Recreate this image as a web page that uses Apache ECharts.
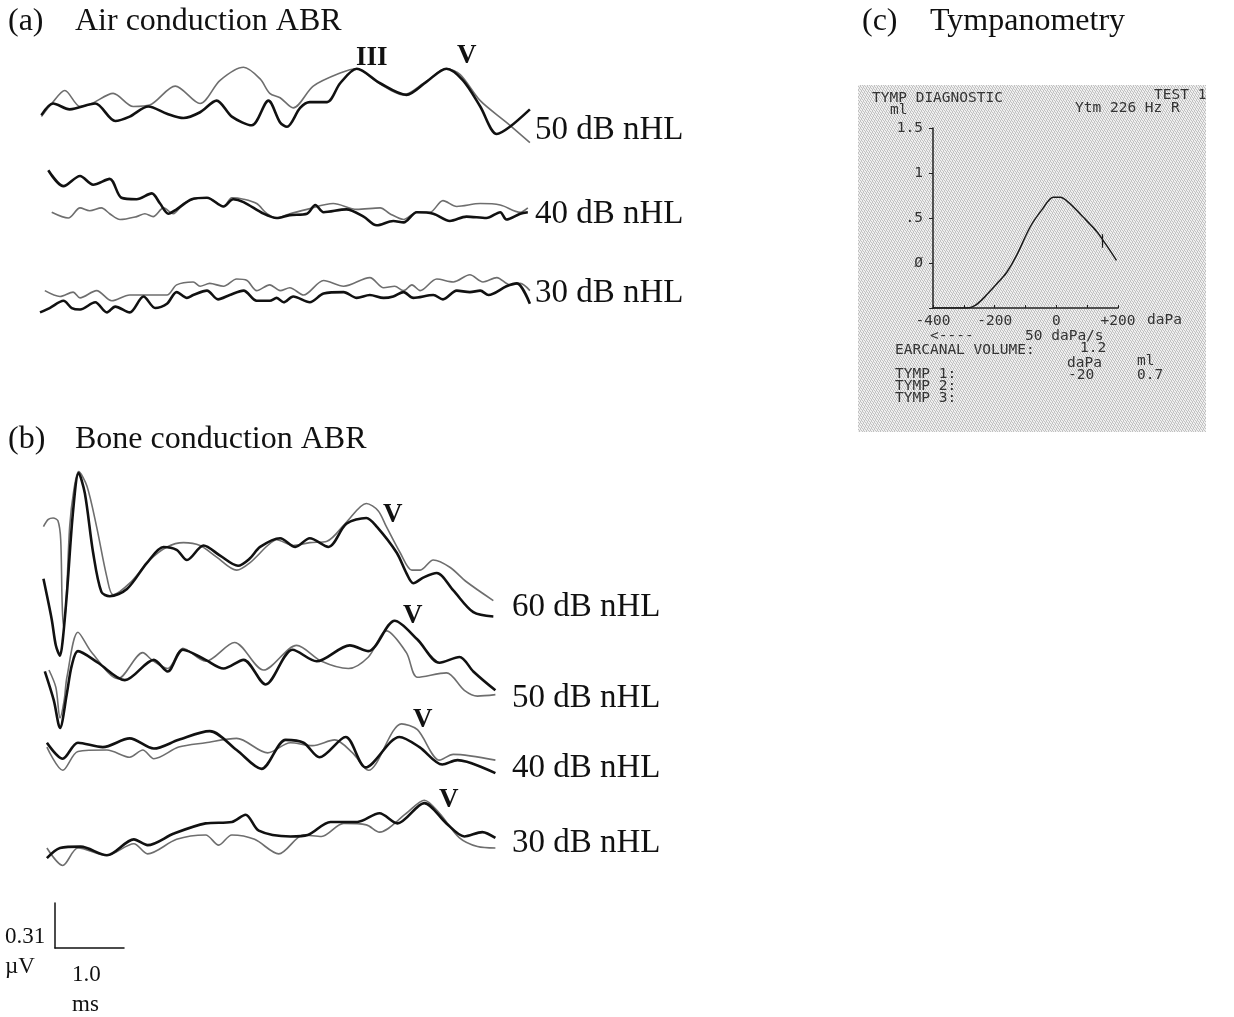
<!DOCTYPE html>
<html>
<head>
<meta charset="utf-8">
<script src="https://cdn.jsdelivr.net/npm/echarts@6/dist/echarts.min.js"></script>
<style>
  html, body { margin: 0; padding: 0; background: #fff; }
  #chart { width: 1234px; height: 1017px; }
</style>
</head>
<body>
<div id="chart"></div>
<script>
// ABR traces: [time (ms), amplitude (uV)] relative to each trace's baseline
// (a) air conduction
const a50Thin = [[0.02,-0.08],[0.17,0.01],[0.36,0.10],[0.58,-0.01],[0.75,0.01],[1.06,0.08],[1.35,-0.01],[1.59,0.00],[1.96,0.13],[2.32,0.01],[2.61,0.17],[2.95,0.26],[3.19,0.18],[3.33,0.08],[3.48,0.05],[3.67,-0.02],[3.96,0.13],[4.35,0.22],[4.59,0.25],[4.88,0.16],[5.27,0.07],[5.56,0.15],[5.89,0.25],[6.09,0.21],[6.38,0.03],[6.76,-0.12],[7.10,-0.26]];
const a50Thick = [[0.02,-0.07],[0.19,0.01],[0.43,-0.03],[0.80,0.01],[1.09,-0.11],[1.30,-0.08],[1.57,-0.01],[1.84,-0.06],[2.08,-0.09],[2.32,-0.05],[2.56,0.03],[2.78,-0.08],[3.07,-0.14],[3.31,0.03],[3.48,-0.12],[3.58,-0.15],[3.77,-0.02],[3.91,0.02],[4.16,0.02],[4.35,0.15],[4.59,0.25],[4.93,0.15],[5.31,0.07],[5.60,0.16],[5.89,0.25],[6.13,0.17],[6.38,-0.01],[6.62,-0.20],[6.81,-0.15],[7.10,-0.03]];
const a40Thin = [[0.17,-0.05],[0.41,-0.09],[0.58,-0.02],[0.72,-0.04],[0.89,-0.02],[1.01,-0.06],[1.16,-0.10],[1.40,-0.08],[1.52,-0.06],[1.64,-0.08],[1.79,-0.02],[1.93,-0.06],[2.08,0.01],[2.22,0.04],[2.42,0.05],[2.66,-0.01],[2.78,0.05],[2.95,0.04],[3.14,0.01],[3.29,-0.06],[3.43,-0.09],[3.62,-0.06],[3.87,-0.03],[4.25,0.01],[4.59,-0.03],[4.93,-0.02],[5.07,-0.06],[5.27,-0.10],[5.46,-0.05],[5.65,-0.05],[5.84,0.03],[6.04,-0.01],[6.38,0.01],[6.67,0.00],[6.96,-0.05],[7.07,-0.02]];
const a40Thick = [[0.12,0.24],[0.34,0.13],[0.58,0.20],[0.77,0.14],[1.01,0.18],[1.18,0.05],[1.40,0.04],[1.62,0.08],[1.74,0.01],[1.86,-0.06],[1.98,-0.03],[2.20,0.04],[2.42,0.05],[2.66,-0.01],[2.80,0.04],[2.95,0.02],[3.24,-0.06],[3.43,-0.09],[3.62,-0.07],[3.87,-0.06],[3.99,0.00],[4.11,-0.05],[4.44,-0.03],[4.69,-0.08],[4.88,-0.14],[5.12,-0.11],[5.27,-0.12],[5.46,-0.05],[5.70,-0.06],[5.94,-0.11],[6.18,-0.08],[6.47,-0.09],[6.67,-0.05],[6.76,-0.10],[6.96,-0.06],[7.07,-0.05]];
const a30Thin = [[0.07,0.03],[0.29,-0.01],[0.48,0.02],[0.58,-0.02],[0.82,0.03],[1.04,-0.04],[1.30,0.00],[1.50,0.00],[1.84,0.00],[1.98,0.07],[2.22,0.09],[2.32,0.06],[2.46,0.08],[2.66,0.06],[2.85,0.11],[3.00,0.10],[3.14,0.03],[3.33,0.07],[3.48,0.03],[3.62,0.05],[3.82,0.00],[4.11,0.10],[4.40,0.06],[4.78,0.12],[4.98,0.05],[5.14,0.06],[5.27,0.03],[5.39,0.07],[5.51,0.03],[5.75,0.11],[5.99,0.09],[6.23,0.14],[6.42,0.09],[6.62,0.12],[6.81,0.07],[6.96,0.08],[7.10,0.03]];
const a30Thick = [[0.00,-0.12],[0.14,-0.09],[0.34,-0.04],[0.46,-0.09],[0.58,-0.10],[0.80,-0.05],[0.97,-0.12],[1.09,-0.08],[1.30,-0.12],[1.50,-0.01],[1.67,-0.09],[1.84,-0.06],[1.98,0.02],[2.13,-0.02],[2.22,0.00],[2.42,0.03],[2.58,-0.03],[2.75,0.00],[2.95,0.03],[3.14,-0.04],[3.33,-0.04],[3.43,-0.02],[3.53,-0.05],[3.67,-0.01],[3.91,-0.05],[4.11,0.01],[4.40,0.02],[4.59,-0.02],[4.78,0.00],[4.98,-0.02],[5.12,-0.01],[5.27,0.02],[5.41,-0.02],[5.70,0.00],[5.84,-0.03],[6.04,0.03],[6.23,0.02],[6.38,0.03],[6.50,0.00],[6.76,0.06],[6.91,0.08],[7.10,-0.06]];

// (b) bone conduction
const b60Thin = [[0.05,0.23],[0.12,0.28],[0.19,0.29],[0.26,0.27],[0.30,0.14],[0.32,-0.28],[0.34,-0.46],[0.38,-0.28],[0.43,0.23],[0.49,0.48],[0.56,0.61],[0.68,0.51],[0.82,0.23],[0.97,-0.12],[1.06,-0.24],[1.30,-0.16],[1.59,0.00],[1.84,0.09],[2.08,0.12],[2.32,0.10],[2.56,0.02],[2.85,-0.07],[3.04,-0.02],[3.30,0.10],[3.43,0.14],[3.67,0.10],[3.91,0.12],[4.16,0.13],[4.44,0.26],[4.73,0.39],[4.90,0.34],[5.02,0.23],[5.22,0.05],[5.39,-0.07],[5.51,-0.07],[5.70,0.00],[5.94,-0.05],[6.18,-0.15],[6.57,-0.28]];
const b60Thick = [[0.05,-0.13],[0.17,-0.41],[0.23,-0.59],[0.29,-0.66],[0.33,-0.55],[0.39,-0.23],[0.48,0.34],[0.56,0.60],[0.65,0.46],[0.77,0.05],[0.89,-0.22],[1.01,-0.25],[1.26,-0.20],[1.55,-0.02],[1.79,0.09],[1.98,0.07],[2.13,0.00],[2.37,0.10],[2.61,0.03],[2.87,-0.04],[3.04,0.01],[3.19,0.09],[3.48,0.15],[3.70,0.09],[3.91,0.15],[4.18,0.09],[4.44,0.25],[4.73,0.29],[4.88,0.23],[5.17,0.05],[5.31,-0.09],[5.41,-0.16],[5.56,-0.12],[5.75,-0.09],[5.99,-0.21],[6.28,-0.36],[6.57,-0.39]];
const b50Thin = [[0.13,0.00],[0.23,-0.12],[0.29,-0.33],[0.35,-0.21],[0.39,-0.05],[0.55,0.26],[0.75,0.12],[1.13,-0.06],[1.49,0.12],[1.62,0.07],[1.85,0.01],[2.07,0.15],[2.40,0.06],[2.82,0.19],[3.24,0.00],[3.72,0.17],[4.08,0.06],[4.47,0.01],[4.76,0.09],[5.02,0.27],[5.31,0.12],[5.47,-0.05],[5.89,-0.02],[6.15,-0.14],[6.34,-0.18],[6.60,-0.17]];
const b50Thick = [[0.07,-0.01],[0.20,-0.21],[0.29,-0.40],[0.39,-0.16],[0.46,0.03],[0.55,0.13],[0.84,0.05],[1.23,-0.07],[1.65,0.07],[1.85,-0.01],[2.07,0.14],[2.40,0.07],[2.66,0.01],[2.95,0.07],[3.27,-0.10],[3.66,0.14],[4.01,0.06],[4.49,0.17],[4.76,0.13],[5.14,0.34],[5.47,0.21],[5.79,0.05],[6.08,0.09],[6.28,-0.01],[6.60,-0.14]];
const b40Thin = [[0.10,0.02],[0.33,-0.14],[0.55,-0.01],[0.97,0.00],[1.30,-0.05],[1.49,0.00],[1.65,-0.06],[2.01,0.02],[2.40,0.05],[2.85,0.08],[3.30,-0.02],[3.63,0.05],[3.95,0.03],[4.27,0.07],[4.53,-0.02],[4.76,-0.14],[5.24,0.18],[5.47,0.14],[5.79,-0.07],[5.99,-0.03],[6.60,-0.07]];
const b40Thick = [[0.10,0.05],[0.33,-0.06],[0.55,0.05],[0.91,0.02],[1.30,0.08],[1.65,0.01],[2.01,0.07],[2.46,0.13],[2.85,0.00],[3.21,-0.13],[3.56,0.07],[3.82,0.05],[4.05,-0.05],[4.43,0.09],[4.72,-0.12],[5.21,0.09],[5.50,0.02],[5.83,-0.10],[6.05,-0.07],[6.60,-0.16]];
const b30Thin = [[0.10,-0.09],[0.33,-0.21],[0.55,-0.09],[0.97,-0.14],[1.36,-0.06],[1.56,-0.13],[1.98,-0.03],[2.40,0.00],[2.59,-0.07],[2.78,0.00],[3.11,-0.03],[3.46,-0.13],[3.82,0.00],[4.08,-0.01],[4.40,0.08],[4.73,0.07],[4.92,0.02],[5.31,0.15],[5.57,0.24],[5.79,0.15],[6.08,-0.02],[6.34,-0.08],[6.60,-0.09]];
const b30Thick = [[0.10,-0.16],[0.29,-0.09],[0.59,-0.08],[0.97,-0.14],[1.36,-0.03],[1.56,-0.07],[1.94,0.01],[2.40,0.08],[2.78,0.09],[2.98,0.14],[3.17,0.03],[3.63,-0.01],[3.88,0.00],[4.21,0.09],[4.60,0.09],[4.92,0.15],[5.18,0.08],[5.57,0.22],[5.89,0.08],[6.15,-0.01],[6.41,0.02],[6.60,-0.02]];

const levelsA = ['50 dB nHL', '40 dB nHL', '30 dB nHL'];
const levelsB = ['60 dB nHL', '50 dB nHL', '40 dB nHL', '30 dB nHL'];

// (c) tympanogram
const tympPressure = [-400, -290, -263, -236, -182, -160, -128, -85, -47, -10, 12, 44, 87, 131, 158, 195];
const tympVolume = [-0.5, -0.5, -0.47, -0.39, -0.19, -0.10, 0.09, 0.40, 0.59, 0.73, 0.73, 0.66, 0.51, 0.35, 0.22, 0.03];
const tympTicksX = [-400, -200, 0, 200];

// scale bar
const scaleMs = 1.0, scaleUv = 0.31;

// ---- layout ----
const PX_MS = 69, PX_UV = 145, YR = 0.7;
const baseA = [105, 205, 295];
const baseB = [560, 670, 750, 835];
const spanA = 7.3, spanB = 6.7;

const chart = echarts.init(document.getElementById('chart'), null, { renderer: 'canvas' });

const grids = [], xAxes = [], yAxes = [], series = [];

function addTraceGrid(left, base, span, thin, thick) {
  const i = grids.length;
  grids.push({ left: left, top: base - YR * PX_UV, width: span * PX_MS, height: 2 * YR * PX_UV });
  xAxes.push({ gridIndex: i, type: 'value', min: 0, max: span, show: false });
  yAxes.push({ gridIndex: i, type: 'value', min: -YR, max: YR, show: false });
  series.push({
    type: 'line', xAxisIndex: i, yAxisIndex: i, data: thin, showSymbol: false, smooth: 0.3,
    lineStyle: { color: '#6e6e6e', width: 1.6 }, silent: true
  });
  series.push({
    type: 'line', xAxisIndex: i, yAxisIndex: i, data: thick, showSymbol: false, smooth: 0.3,
    lineStyle: { color: '#111', width: 2.6 }, silent: true
  });
}

addTraceGrid(40, baseA[0], spanA, a50Thin, a50Thick);
addTraceGrid(40, baseA[1], spanA, a40Thin, a40Thick);
addTraceGrid(40, baseA[2], spanA, a30Thin, a30Thick);
addTraceGrid(40, baseB[0], spanB, b60Thin, b60Thick);
addTraceGrid(40, baseB[1], spanB, b50Thin, b50Thick);
addTraceGrid(40, baseB[2], spanB, b40Thin, b40Thick);
addTraceGrid(40, baseB[3], spanB, b30Thin, b30Thick);

// tympanogram grid
const MONO = 'DejaVu Sans Mono';
const tg = grids.length;
grids.push({ left: 933, top: 128, width: 185, height: 180 });
xAxes.push({
  gridIndex: tg, type: 'value', min: -400, max: 200, interval: 100,
  axisLine: { onZero: false, lineStyle: { color: '#222', width: 1.5 } },
  axisTick: { inside: true, length: 3, lineStyle: { color: '#222' } },
  splitLine: { show: false },
  axisLabel: {
    margin: 6, fontFamily: MONO, fontSize: 14.5, color: '#333',
    formatter: v => tympTicksX.includes(v) ? (v > 0 ? '+' + v : String(v)) : ''
  }
});
yAxes.push({
  gridIndex: tg, type: 'value', min: -0.5, max: 1.5, interval: 0.5,
  axisLine: { show: true, onZero: false, lineStyle: { color: '#222', width: 1.5 } },
  axisTick: { show: true, length: 4, lineStyle: { color: '#222' } },
  splitLine: { show: false },
  axisLabel: {
    margin: 10, fontFamily: MONO, fontSize: 14.5, color: '#333',
    formatter: v => ({ '1.5': '1.5', '1': '1', '0.5': '.5', '0': 'Ø' })[String(v)] || ''
  }
});
series.push({
  type: 'line', xAxisIndex: tg, yAxisIndex: tg, showSymbol: false, smooth: 0.3, silent: true,
  data: tympPressure.map((p, k) => [p, tympVolume[k]]),
  lineStyle: { color: '#1a1a1a', width: 1.5 },
  markLine: {
    silent: true, symbol: 'none', label: { show: false },
    lineStyle: { color: '#1a1a1a', width: 1.2, type: 'solid' },
    data: [[{ coord: [150, 0.32] }, { coord: [150, 0.17] }]]
  }
});

// scale bar drawn as a pair of axes
const sg = grids.length;
grids.push({ left: 55, top: 948 - scaleUv * PX_UV, width: scaleMs * PX_MS, height: scaleUv * PX_UV });
xAxes.push({ gridIndex: sg, type: 'value', min: 0, max: scaleMs,
  axisLine: { lineStyle: { color: '#111', width: 1.5 } }, axisTick: { show: false },
  axisLabel: { show: false }, splitLine: { show: false } });
yAxes.push({ gridIndex: sg, type: 'value', min: 0, max: scaleUv,
  axisLine: { show: true, lineStyle: { color: '#111', width: 1.5 } }, axisTick: { show: false },
  axisLabel: { show: false }, splitLine: { show: false } });

// ---- texts ----
const SERIF = '"Liberation Serif", "Times New Roman", serif';
function txt(s, x, y, font, extra) {
  return {
    type: 'text', x: x, y: y, silent: true, z: 10,
    style: Object.assign({ text: s, font: font, fill: '#111', textAlign: 'left', textVerticalAlign: 'middle' }, extra || {})
  };
}
const TITLE = '32px ' + SERIF, LABEL = '33px ' + SERIF, MARK = 'bold 27px ' + SERIF,
      SMALL = '23px ' + SERIF, TM = '14.5px "' + MONO + '"';
const TC = { fill: '#333' };

// halftone background for the tympanometer printout
const pat = document.createElement('canvas');
pat.width = 7; pat.height = 7;
const pc = pat.getContext('2d');
pc.fillStyle = '#efefef'; pc.fillRect(0, 0, 7, 7);
pc.fillStyle = '#c2c2c2';
for (let i = 0; i < 7; i++) for (let j = 0; j < 7; j++) if ((i * 3 + j * 5) % 7 < 3) pc.fillRect(i, j, 1, 1);

const graphics = [
  { type: 'rect', shape: { x: 858, y: 85, width: 348, height: 347 }, z: -10, silent: true,
    style: { fill: { image: pat, repeat: 'repeat' } } },
  txt('(a)', 8, 22, TITLE), txt('Air conduction ABR', 75, 22, TITLE),
  txt('(b)', 8, 440, TITLE), txt('Bone conduction ABR', 75, 440, TITLE),
  txt('(c)', 862, 22, TITLE), txt('Tympanometry', 930, 22, TITLE),
  txt('III', 356, 58, MARK), txt('V', 457, 56, MARK),
  txt('V', 383, 515, MARK), txt('V', 403, 616, MARK), txt('V', 413, 720, MARK), txt('V', 439, 800, MARK),
  txt(levelsA[0], 535, 130, LABEL), txt(levelsA[1], 535, 214, LABEL), txt(levelsA[2], 535, 293, LABEL),
  txt(levelsB[0], 512, 607, LABEL), txt(levelsB[1], 512, 698, LABEL), txt(levelsB[2], 512, 768, LABEL), txt(levelsB[3], 512, 843, LABEL),
  txt('0.31', 5, 937, SMALL), txt('µV', 5, 967, SMALL), txt('1.0', 72, 975, SMALL), txt('ms', 72, 1005, SMALL),
  txt('TYMP DIAGNOSTIC', 872, 98, TM, TC),
  txt('ml', 890, 110, TM, TC),
  txt('TEST 1', 1154, 95, TM, TC),
  txt('Ytm 226 Hz R', 1075, 108, TM, TC),
  txt('daPa', 1147, 320, TM, TC),
  txt('<----', 930, 336, TM, TC),
  txt('50 daPa/s', 1025, 336, TM, TC),
  txt('EARCANAL VOLUME:', 895, 350, TM, TC),
  txt('1.2', 1080, 348, TM, TC),
  txt('daPa', 1067, 363, TM, TC), txt('ml', 1137, 361, TM, TC),
  txt('TYMP 1:', 895, 374, TM, TC),
  txt('-20', 1068, 375, TM, TC), txt('0.7', 1137, 375, TM, TC),
  txt('TYMP 2:', 895, 386, TM, TC),
  txt('TYMP 3:', 895, 398, TM, TC)
];

chart.setOption({
  animation: false,
  backgroundColor: '#fff',
  grid: grids,
  xAxis: xAxes,
  yAxis: yAxes,
  series: series,
  graphic: { elements: graphics }
});
</script>
</body>
</html>
